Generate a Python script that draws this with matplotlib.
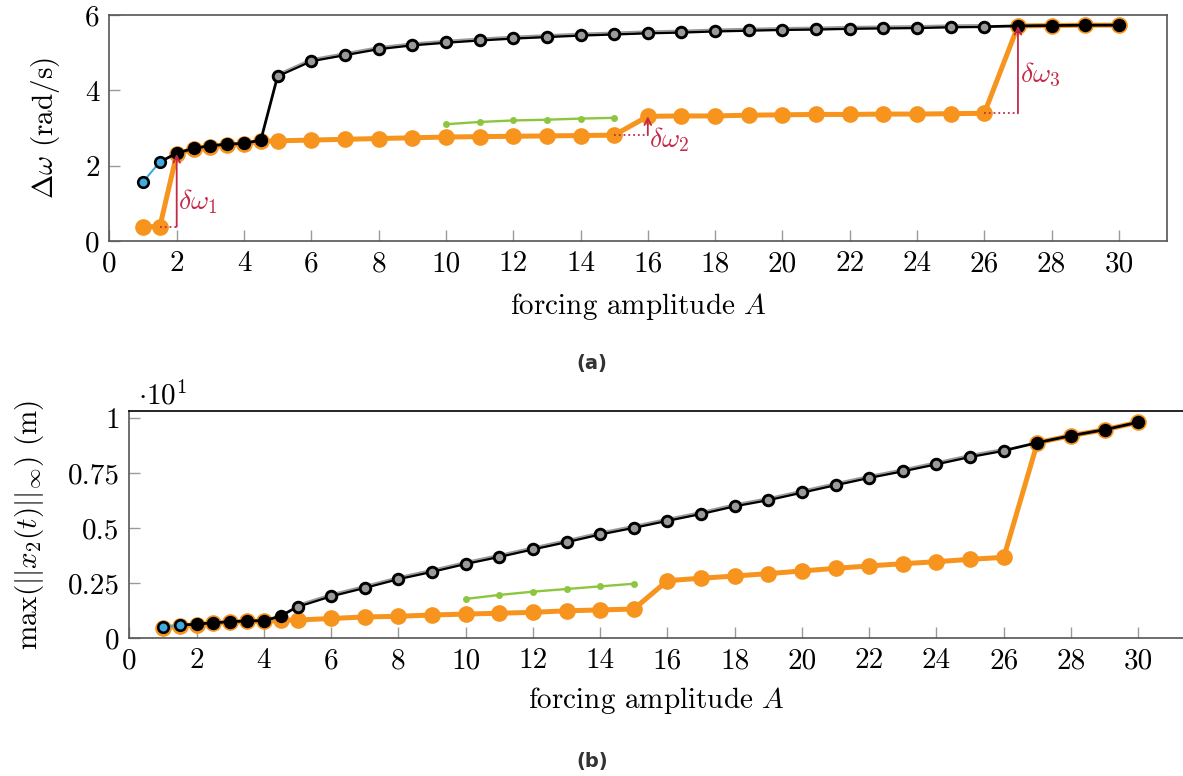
import matplotlib
matplotlib.use("Agg")
import matplotlib.pyplot as plt
import matplotlib.transforms as mtransforms

plt.rcParams["font.family"] = "cmr10"
plt.rcParams["mathtext.fontset"] = "cm"
plt.rcParams["axes.formatter.use_mathtext"] = True
plt.rcParams["axes.unicode_minus"] = False

# forcing amplitudes
A_all = [1, 1.5, 2, 2.5, 3, 3.5, 4, 4.5, 5, 6, 7, 8, 9, 10, 11, 12, 13, 14, 15,
         16, 17, 18, 19, 20, 21, 22, 23, 24, 25, 26, 27, 28, 29, 30]
A_low = [1, 1.5]
A_upper_start = [1.5, 2, 2.5, 3, 3.5, 4, 4.5]
A_upper_mid = [5, 6, 7, 8, 9, 10, 11, 12, 13, 14, 15, 16, 17, 18, 19, 20, 21,
               22, 23, 24, 25, 26]
A_upper_end = [27, 28, 29, 30]
A_green = [10, 11, 12, 13, 14, 15]

# (a) frequency shift, rad/s
dw_orange = [0.38, 0.38, 2.31, 2.44, 2.50, 2.55, 2.58, 2.65, 2.66, 2.68, 2.70,
             2.72, 2.74, 2.76, 2.77, 2.78, 2.79, 2.80, 2.81, 3.31, 3.32, 3.32,
             3.34, 3.35, 3.36, 3.36, 3.37, 3.37, 3.38, 3.39, 5.71, 5.72, 5.73,
             5.73]
dw_blue = [1.57, 2.10]
dw_upper_start = [2.10, 2.33, 2.46, 2.53, 2.57, 2.59, 2.68]
dw_upper_mid = [4.38, 4.78, 4.94, 5.10, 5.20, 5.27, 5.33, 5.38, 5.42, 5.46,
                5.49, 5.52, 5.54, 5.57, 5.59, 5.61, 5.62, 5.64, 5.65, 5.66,
                5.68, 5.69]
dw_upper_end = [5.71, 5.72, 5.73, 5.73]
dw_green = [3.10, 3.16, 3.20, 3.22, 3.25, 3.27]

# (b) max displacement, units of 10 m
x2_orange = [0.048, 0.055, 0.062, 0.069, 0.073, 0.077, 0.078, 0.082, 0.083,
             0.090, 0.097, 0.100, 0.106, 0.110, 0.114, 0.118, 0.125, 0.129,
             0.133, 0.262, 0.273, 0.283, 0.294, 0.306, 0.318, 0.329, 0.339,
             0.348, 0.359, 0.368, 0.889, 0.921, 0.948, 0.982]
x2_blue = [0.050, 0.060]
x2_upper_start = [0.060, 0.064, 0.071, 0.075, 0.079, 0.080, 0.101]
x2_upper_mid = [0.144, 0.192, 0.230, 0.270, 0.303, 0.339, 0.371, 0.405, 0.438,
                0.473, 0.503, 0.535, 0.566, 0.601, 0.629, 0.663, 0.697, 0.730,
                0.760, 0.792, 0.825, 0.853]
x2_upper_end = [0.889, 0.921, 0.948, 0.982]
x2_green = [0.179, 0.197, 0.212, 0.224, 0.236, 0.248]

ORANGE = "#F7941E"
GREEN = "#8CC63F"
BLUE = "#3FA9E0"
GRAY = "#9a9a9a"
RED = "#C42A48"
SPINE = "#555555"

W, H = 1183, 776
fig = plt.figure(figsize=(W / 100, H / 100), dpi=100)


def px_axes(l, r, t, b):
    return [l / W, 1 - b / H, (r - l) / W, (b - t) / H]


ax1 = fig.add_axes(px_axes(109.4, 1166.7, 15, 241))
ax2 = fig.add_axes(px_axes(129.4, 1183, 411, 638.3))


def draw_branches(ax, orange, blue, up_start, up_mid, up_end, green):
    # lower (orange) branch
    ax.plot(A_all, orange, "-o", color=ORANGE, lw=3.6, ms=12, mec=ORANGE,
            mew=0, zorder=2, clip_on=False)
    # isolated (green) branch
    ax.plot(A_green, green, "-o", color=GREEN, lw=1.7, ms=5, mew=0, zorder=3)
    # upper branch: connecting black line
    up_x = A_upper_start + A_upper_mid + A_upper_end
    up_y = up_start + up_mid + up_end
    ax.plot(up_x, up_y, "-", color="black", lw=2.0, zorder=4, clip_on=False)
    shifted = mtransforms.offset_copy(ax.transData, fig=fig, x=0, y=1.8,
                                      units="dots")
    ax.plot(A_upper_mid, up_mid, "-", color=GRAY, lw=1.3, zorder=4.1,
            transform=shifted)
    ax.plot(A_upper_mid, up_mid, "o", color=GRAY, ms=7.6, mec="black",
            mew=2.1, zorder=5)
    # black markers where the upper branch is met
    ax.plot(A_upper_start[1:] + A_upper_end, up_start[1:] + up_end, "o",
            color="black", ms=9.6, mew=0, zorder=5, clip_on=False)
    # small-amplitude (blue) branch
    ax.plot(A_low, blue, "-o", color=BLUE, lw=1.5, ms=7.6, mec="black",
            mew=1.9, zorder=5)


draw_branches(ax1, dw_orange, dw_blue, dw_upper_start, dw_upper_mid,
              dw_upper_end, dw_green)
draw_branches(ax2, x2_orange, x2_blue, x2_upper_start, x2_upper_mid,
              x2_upper_end, x2_green)

# jump annotations in (a)
jumps = [(1, 2), (18, 19), (29, 30)]
jump_labels = [r"$\delta\omega_1$", r"$\delta\omega_2$", r"$\delta\omega_3$"]
label_y = [1.05, 2.68, 4.40]
for (i0, i1), lab, ly in zip(jumps, jump_labels, label_y):
    xa, xb = A_all[i0], A_all[i1]
    ya, yb = dw_orange[i0], dw_orange[i1]
    ax1.plot([xa, xb], [ya, ya], ":", color=RED, lw=1.3, zorder=6)
    ax1.annotate("", xy=(xb, yb), xytext=(xb, ya),
                 arrowprops=dict(arrowstyle="->", color=RED, lw=1.3,
                                 shrinkA=0, shrinkB=0,
                                 mutation_scale=12), zorder=6)
    ax1.text(xb + 0.05, ly, lab, color=RED, fontsize=20, ha="left",
             va="center", zorder=6)

# axes styling
ax1.set_xlim(0, 31.42)
ax1.set_ylim(0, 6)
ax1.set_xticks(range(0, 31, 2))
ax1.set_yticks([0, 2, 4, 6])
ax1.set_yticklabels(["0", "2", "4", "6"])

ax2.set_xlim(0, 31.33)
ax2.set_ylim(0, 1.033)
ax2.set_xticks(range(0, 31, 2))
ax2.set_yticks([0, 0.25, 0.5, 0.75, 1])
ax2.set_yticklabels(["0", "0.25", "0.5", "0.75", "1"])

for ax in (ax1, ax2):
    ax.set_xticklabels([str(v) for v in range(0, 31, 2)])
    ax.tick_params(direction="in", length=8, width=1.0, color="#9a9a9a",
                   labelsize=21, pad=7, top=False, right=False)
    for s in ax.spines.values():
        s.set_color(SPINE)
        s.set_linewidth(1.2)

ax2.spines["right"].set_visible(False)
ax2.spines["top"].set_color("black")

ax1.set_xlabel(r"forcing amplitude $A$", fontsize=21, labelpad=10)
ax2.set_xlabel(r"forcing amplitude $A$", fontsize=21, labelpad=8)

fig.text(45 / W, 1 - 128 / H, r"$\Delta\omega$ (rad/s)", rotation=90,
         fontsize=21, ha="center", va="center")
fig.text(30 / W, 1 - 525 / H, r"$\max(||x_2(t)||_\infty)$ (m)", rotation=90,
         fontsize=21, ha="center", va="center")
fig.text(138 / W, 1 - 396 / H, r"$\cdot 10^{1}$", fontsize=21, ha="left",
         va="center")

fig.text(592 / W, 1 - 363 / H, "(a)", fontsize=14, fontweight="bold",
         family="DejaVu Sans", color="#333333", ha="center", va="center")
fig.text(592 / W, 1 - 762 / H, "(b)", fontsize=14, fontweight="bold",
         family="DejaVu Sans", color="#333333", ha="center", va="center")

fig.savefig("out.png", dpi=100)
